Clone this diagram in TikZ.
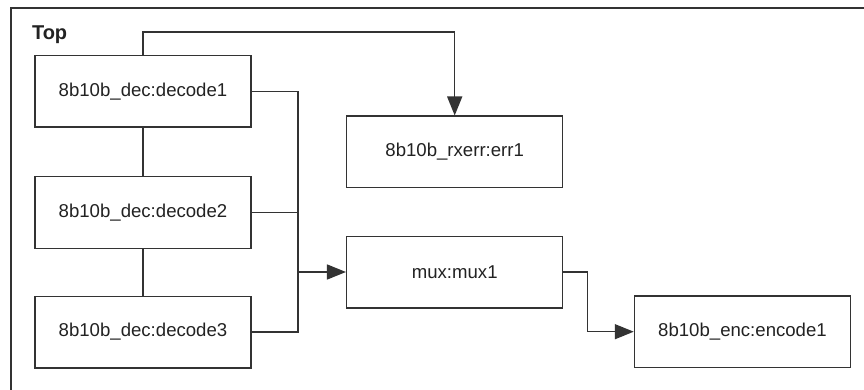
\documentclass[tikz,border=0pt]{standalone}
\usepackage{fontspec}
\setmainfont{Liberation Sans}
\usetikzlibrary{arrows.meta}
\definecolor{lc}{HTML}{333333}
\definecolor{tc}{HTML}{222222}
\begin{document}
\begin{tikzpicture}[x=1pt,y=1pt,
  blk/.style={draw=lc,line width=1.5pt,minimum width=216pt,minimum height=71.5pt,inner sep=0pt,text=tc,font=\fontsize{18.6pt}{22pt}\selectfont},
  wire/.style={draw=lc,line width=1.5pt},
  arr/.style={wire,-{Triangle[length=19pt,width=15pt]}}]
\useasboundingbox (0,0) rectangle (864,-390);
\clip (0,0) rectangle (864,-390);
\fill[white] (0,0) rectangle (864,-390);
\draw[lc,line width=1.5pt] (11,-8) rectangle (880,-400);
\node[anchor=base west,text=tc,font=\fontsize{20pt}{24pt}\selectfont\bfseries] (top) at (28.5,-39.5) {Top};
\node[blk] (d1) at (143,-91.5) {8b10b\_dec:decode1};
\node[blk] (d2) at (143,-212.5) {8b10b\_dec:decode2};
\node[blk] (d3) at (143,-332) {8b10b\_dec:decode3};
\node[blk] (err) at (454.7,-152) {8b10b\_rxerr:err1};
\node[blk] (mux) at (454.7,-272) {mux:mux1};
\node[blk] (enc) at (742.5,-331.7) {8b10b\_enc:encode1};
\coordinate (bt) at (298,-91.5);
\coordinate (bb) at (298,-332);
\draw[wire] (d1.south) -- (d2.north);
\draw[wire] (d2.south) -- (d3.north);
\draw[arr] (d1.north) -- ++(0,23) -| (err.north);
\draw[wire] (d1.east) -- (bt) -- (bb) -- (d3.east);
\draw[wire] (d2.east) -- (d2.east -| bt);
\draw[arr] (mux.west -| bt) -- (mux.west);
\draw[arr] (mux.east) -- ++(24,0) |- (enc.west);
\end{tikzpicture}
\end{document}
